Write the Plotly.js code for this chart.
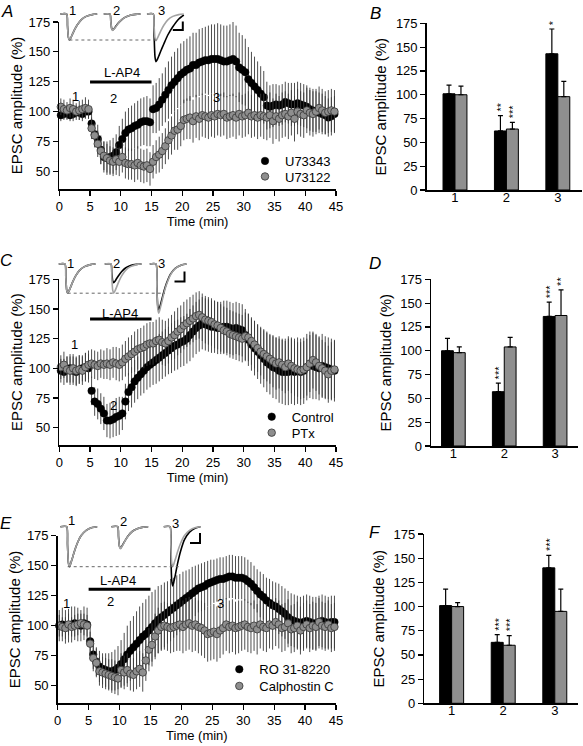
<!DOCTYPE html>
<html>
<head>
<meta charset="utf-8">
<script src="https://cdn.plot.ly/plotly-3.0.1.min.js"></script>
<style>html,body{margin:0;padding:0;background:#fff;}#plot{width:583px;height:746px;}</style>
</head>
<body>
<div id="plot"></div>
<script>
// ---------- time course data (min) ----------
const time = [0.25,0.75,1.25,1.75,2.25,2.75,3.25,3.75,4.25,4.75,
5.25,5.75,6.25,6.75,7.25,7.75,8.25,8.75,9.25,9.75,
10.25,10.75,11.25,11.75,12.25,12.75,13.25,13.75,14.25,14.75,
15.25,15.75,16.25,16.75,17.25,17.75,18.25,18.75,19.25,19.75,
20.25,20.75,21.25,21.75,22.25,22.75,23.25,23.75,24.25,24.75,
25.25,25.75,26.25,26.75,27.25,27.75,28.25,28.75,29.25,29.75,
30.25,30.75,31.25,31.75,32.25,32.75,33.25,33.75,34.25,34.75,
35.25,35.75,36.25,36.75,37.25,37.75,38.25,38.75,39.25,39.75,
40.25,40.75,41.25,41.75,42.25,42.75,43.25,43.75,44.25,44.75];

// Panel A
const aU73343 = [97,98,99,97,98,100,99,98,100,100,
90,81,77,68,62,61,62,63,66,72,
77,82,85,86,88,89,91,92,92,91,
102,103,106,110,114,118,122,125,128,131,
133,135,136,139,139,141,142,143,143,144,
144,144,143,142,142,143,144,142,137,135,
133,127,124,121,118,115,112,105,104,105,
106,105,106,108,107,106,106,107,106,105,
104,102,101,100,99,98,97,95,96,98];
const aU73343Err = [5,5,6,5,6,5,6,6,5,6,
8,10,12,12,13,14,14,15,15,16,
17,18,18,19,19,20,20,20,21,20,
20,21,22,22,23,24,24,25,25,26,
26,26,27,27,27,28,28,28,29,29,
29,30,30,30,30,30,31,30,29,29,
28,27,26,25,24,23,22,20,18,18,
17,17,17,17,17,18,18,18,18,18,
18,18,18,17,17,17,16,16,16,15];
const aU73122 = [104,102,101,103,102,100,101,102,103,102,
86,80,73,67,63,61,59,58,60,58,
62,57,56,56,55,57,55,54,55,52,
58,62,64,67,71,76,80,84,85,88,
93,94,95,92,96,94,97,96,95,97,
96,98,97,98,95,96,97,95,98,96,
97,99,96,97,95,97,96,95,97,92,
96,94,97,98,96,99,94,100,98,97,
101,99,98,100,103,101,99,100,101,100];
const aU73122Err = [7,8,7,8,8,7,8,8,9,8,
9,10,11,11,12,12,12,12,13,12,
13,13,13,13,14,14,14,14,14,14,
14,14,15,15,15,16,16,16,17,17,
17,17,18,18,18,18,18,18,18,18,
18,18,18,18,18,18,18,18,18,18,
18,18,18,18,18,18,19,19,19,19,
19,19,19,19,19,19,19,19,19,19,
19,19,19,19,18,18,18,18,18,18];

// Panel C
const cControl = [98,97,99,100,98,97,99,100,101,100,
81,72,70,66,62,56,56,57,59,60,
62,72,80,84,89,92,95,98,101,103,
105,107,109,111,113,115,117,119,120,122,
123,125,128,131,134,136,138,137,136,135,
135,134,134,135,135,134,133,134,133,132,
128,124,120,117,114,111,108,105,103,101,
100,98,97,97,97,98,97,98,97,98,
101,103,102,101,100,102,101,100,99,98];
const cControlErr = [10,11,11,12,12,12,12,11,12,12,
12,12,13,13,14,14,15,15,16,16,
14,15,16,17,18,18,18,19,19,19,
19,20,20,20,20,20,21,21,21,21,
21,21,22,22,22,22,22,22,22,22,
22,22,22,22,22,22,22,22,22,22,
22,22,22,23,23,24,24,25,25,26,
26,27,27,28,28,28,28,28,28,28,
28,28,28,27,27,27,26,26,26,26];
const cPTx = [101,103,99,98,100,98,99,98,101,103,
104,103,102,104,103,104,103,105,104,103,
105,108,110,112,114,116,117,118,120,121,
121,123,124,122,121,123,126,128,131,133,
136,138,140,142,144,145,143,141,140,139,
137,136,134,132,131,129,128,127,126,125,
127,126,123,120,117,114,112,110,108,106,
104,105,103,101,104,102,100,99,98,99,
101,104,107,105,102,100,98,95,98,99];
const cPTxErr = [10,11,11,12,12,12,12,12,12,12,
12,12,12,12,12,13,13,13,14,14,
15,15,16,16,17,17,17,18,18,18,
18,18,19,19,19,19,19,20,20,20,
20,20,20,20,20,20,20,20,20,20,
20,20,20,20,20,20,20,20,20,20,
20,20,20,20,20,20,21,21,21,22,
22,22,22,22,23,23,23,23,24,24,
24,24,24,24,24,24,24,24,24,24];

// Panel E
const eRO318220 = [100,101,99,100,101,102,101,100,102,101,
87,76,70,66,64,63,62,62,63,65,
68,72,76,79,82,85,88,91,93,96,
99,102,105,107,109,111,113,115,117,119,
121,123,125,127,129,131,132,133,135,136,
137,138,139,139,140,141,141,140,140,140,
139,137,135,132,129,126,124,121,119,117,
116,114,112,110,107,105,104,103,102,103,
104,103,102,102,103,104,103,102,103,103];
const eRO318220Err = [13,14,14,14,15,14,14,13,14,14,
12,12,12,13,13,14,15,16,17,18,
20,22,24,25,26,27,28,28,29,29,
29,28,28,27,27,26,26,25,25,24,
24,23,22,22,21,20,20,20,19,19,
18,18,18,18,18,18,18,18,18,18,
18,18,18,18,18,19,19,19,20,20,
20,21,21,21,22,22,22,22,22,22,
22,22,22,22,22,22,22,22,22,22];
const eCalphostin = [100,99,98,101,99,100,101,102,101,100,
85,73,69,62,61,60,59,58,57,56,
63,61,63,60,59,62,64,61,71,80,
84,91,96,99,100,99,98,99,100,101,
99,101,102,100,101,99,98,96,93,94,
95,93,96,98,101,99,100,98,99,100,
101,99,98,100,97,101,99,98,101,100,
103,101,98,99,102,97,98,100,96,99,
101,98,100,99,103,100,99,101,98,99];
const eCalphostinErr = [9,8,9,9,8,9,9,8,9,9,
10,11,12,12,13,13,13,14,14,14,
14,14,14,14,14,15,15,16,17,18,
18,19,19,20,20,20,21,21,21,22,
22,22,22,22,22,22,23,23,23,23,
23,23,23,22,22,22,22,22,22,21,
21,21,21,21,21,20,20,20,20,20,
20,20,20,20,20,20,20,20,20,20,
20,20,20,20,20,20,20,20,20,20];

// ---------- summary bar data ----------
const barCats = ['1','2','3'];
const bBlack = [101,62,143], bBlackErr = [9,16,26];
const bGrey  = [100,64,98],  bGreyErr  = [9,7,16];
const bBlackStars = ['','**','*'], bGreyStars = ['','***',''];
const dBlack = [100,57,136], dBlackErr = [13,9,15];
const dGrey  = [98,104,137], dGreyErr  = [6,10,27];
const dBlackStars = ['','***','***'], dGreyStars = ['','','**'];
const fBlack = [101,63,140], fBlackErr = [17,8,13];
const fGrey  = [100,60,95],  fGreyErr  = [4,10,23];
const fBlackStars = ['','***','***'], fGreyStars = ['','***',''];
const noErr = [0,0,0];

// ---------- example EPSC sweeps (ms, pA) ----------
const sweepTime = [0,6.5,7.3,8.2,9.2,10.5,12,14,17,21,26,32,37];
const aSweep1Black = [0,0,-59,-117,-130,-120,-104,-82,-55,-29,-12,-3,0];
const aSweep1Grey  = [0,0,-59,-117,-130,-120,-104,-82,-55,-29,-12,-3,0];
const aSweep2Black = [0,0,-36,-72,-80,-74,-64,-50,-34,-18,-7,-2,0];
const aSweep2Grey  = [0,0,-37,-74,-82,-75,-66,-52,-34,-18,-7,-2,0];
const aSweep3Black = [0,0,-107,-214,-238,-228,-210,-185,-150,-105,-64,-25,-5];
const aSweep3Grey  = [0,0,-60,-120,-133,-122,-106,-84,-56,-29,-12,-3,0];
const cSweep1Black = [0,0,-66,-131,-146,-134,-117,-92,-61,-32,-13,-3,0];
const cSweep1Grey  = [0,0,-66,-131,-146,-134,-117,-92,-61,-32,-13,-3,0];
const cSweep2Black = [0,0,-42,-84,-93,-86,-74,-59,-39,-20,-8,-2,0];
const cSweep2Grey  = [0,0,-66,-131,-146,-134,-117,-92,-61,-32,-13,-3,0];
const cSweep3Black = [0,0,-104,-207,-230,-212,-184,-145,-97,-51,-21,-5,0];
const cSweep3Grey  = [0,0,-111,-221,-246,-226,-197,-155,-103,-54,-22,-5,0];
const eSweep1Black = [0,0,-90,-180,-200,-184,-160,-126,-84,-44,-18,-4,0];
const eSweep1Grey  = [0,0,-90,-180,-200,-184,-160,-126,-84,-44,-18,-4,0];
const eSweep2Black = [0,0,-49,-97,-108,-99,-86,-68,-45,-24,-10,-2,0];
const eSweep2Grey  = [0,0,-50,-99,-110,-101,-88,-69,-46,-24,-10,-2,0];
const eSweep3Black = [0,0,-133,-266,-296,-272,-237,-186,-124,-65,-27,-6,0];
const eSweep3Grey  = [0,0,-90,-180,-200,-184,-160,-126,-84,-44,-18,-4,0];

const drugStart = 5, drugEnd = 15;

// ---------- styling helpers ----------
const W = 583, H = 746;
const px = v => v / W;
const py = v => 1 - v / H;
const FONT = 'Liberation Sans, Arial, Helvetica, sans-serif';
const BLACK = '#000000', GREY = '#8e8e8e', BARGREY = '#8f8f8f', SWEEPGREY = '#a3a3a3';

function markerStyle(isGrey) {
  return { size: 7.5, color: isGrey ? GREY : BLACK,
           line: { color: isGrey ? '#333333' : '#000', width: isGrey ? 0.8 : 0.5 } };
}
function timeSeries(y, err, name, isGrey, xa, ya) {
  return {
    type: 'scatter', mode: 'markers', x: time, y: y, name: name, showlegend: false,
    xaxis: xa, yaxis: ya, cliponaxis: false,
    marker: markerStyle(isGrey),
    error_y: { type: 'data', array: err, visible: true, color: '#3a3a3a', thickness: 0.9, width: 0 }
  };
}
function legendEntry(name, isGrey, xa, ya, leg) {
  return { type: 'scatter', mode: 'markers', x: [null], y: [null], name: name, xaxis: xa, yaxis: ya,
           legend: leg, showlegend: true, marker: markerStyle(isGrey) };
}
function bars(y, err, isGrey, xa, ya) {
  return {
    type: 'bar', x: barCats, y: y, xaxis: xa, yaxis: ya, showlegend: false,
    marker: { color: isGrey ? BARGREY : BLACK, line: { color: '#000', width: 1 } },
    error_y: { type: 'data', symmetric: false, array: err, arrayminus: noErr, color: '#000', thickness: 1.2, width: 2.5 }
  };
}
function sweep(y, isGrey, xa, ya) {
  return {
    type: 'scatter', mode: 'lines', x: sweepTime, y: y, xaxis: xa, yaxis: ya, showlegend: false,
    line: { color: isGrey ? SWEEPGREY : BLACK, width: 1.6, shape: 'spline', smoothing: 0.6 },
    hoverinfo: 'skip'
  };
}

const traces = [
  timeSeries(aU73343, aU73343Err, 'U73343', false, 'x', 'y'),
  timeSeries(aU73122, aU73122Err, 'U73122', true, 'x', 'y'),
  bars(bBlack, bBlackErr, false, 'x2', 'y2'),
  bars(bGrey, bGreyErr, true, 'x2', 'y2'),
  timeSeries(cControl, cControlErr, 'Control', false, 'x3', 'y3'),
  timeSeries(cPTx, cPTxErr, 'PTx', true, 'x3', 'y3'),
  bars(dBlack, dBlackErr, false, 'x4', 'y4'),
  bars(dGrey, dGreyErr, true, 'x4', 'y4'),
  timeSeries(eRO318220, eRO318220Err, 'RO 31-8220', false, 'x5', 'y5'),
  timeSeries(eCalphostin, eCalphostinErr, 'Calphostin C', true, 'x5', 'y5'),
  bars(fBlack, fBlackErr, false, 'x6', 'y6'),
  bars(fGrey, fGreyErr, true, 'x6', 'y6'),
  sweep(aSweep1Black, false, 'x7', 'y7'), sweep(aSweep1Grey, true, 'x7', 'y7'),
  sweep(aSweep2Black, false, 'x8', 'y8'), sweep(aSweep2Grey, true, 'x8', 'y8'),
  sweep(aSweep3Black, false, 'x9', 'y9'), sweep(aSweep3Grey, true, 'x9', 'y9'),
  sweep(cSweep1Black, false, 'x10', 'y10'), sweep(cSweep1Grey, true, 'x10', 'y10'),
  sweep(cSweep2Black, false, 'x11', 'y11'), sweep(cSweep2Grey, true, 'x11', 'y11'),
  sweep(cSweep3Black, false, 'x12', 'y12'), sweep(cSweep3Grey, true, 'x12', 'y12'),
  sweep(eSweep1Black, false, 'x13', 'y13'), sweep(eSweep1Grey, true, 'x13', 'y13'),
  sweep(eSweep2Black, false, 'x14', 'y14'), sweep(eSweep2Grey, true, 'x14', 'y14'),
  sweep(eSweep3Black, false, 'x15', 'y15'), sweep(eSweep3Grey, true, 'x15', 'y15'),
  legendEntry('U73343', false, 'x', 'y', 'legend'),
  legendEntry('U73122', true, 'x', 'y', 'legend2'),
  legendEntry('Control', false, 'x3', 'y3', 'legend3'),
  legendEntry('PTx', true, 'x3', 'y3', 'legend4'),
  legendEntry('RO 31-8220', false, 'x5', 'y5', 'legend5'),
  legendEntry('Calphostin C', true, 'x5', 'y5', 'legend6')
];

function timeX(dom, anchor) {
  return { domain: dom, anchor: anchor, range: [0, 45], dtick: 5, tick0: 0,
    ticks: 'outside', ticklen: 5, tickwidth: 1.2, tickcolor: '#000',
    showline: true, linewidth: 1.5, linecolor: '#000', showgrid: false, zeroline: false,
    tickfont: { size: 13, color: '#000' },
    title: { text: 'Time (min)', font: { size: 13, color: '#000' }, standoff: 3 }, fixedrange: true };
}
function ampY(dom, anchor, bottom, standoff) {
  return { domain: dom, anchor: anchor, range: [bottom, 175], dtick: 25, tick0: 0,
    ticks: 'outside', ticklen: 5, tickwidth: 1.2, tickcolor: '#000',
    showline: true, linewidth: 1.5, linecolor: '#000', showgrid: false, zeroline: false,
    tickfont: { size: 13, color: '#000' },
    title: { text: 'EPSC amplitude (%)', font: { size: 15, color: '#000' }, standoff: standoff }, fixedrange: true };
}
function catX(dom, anchor, range) {
  return { domain: dom, anchor: anchor, type: 'category', range: range,
    ticks: '', ticklen: 0, ticklabelstandoff: -5, showline: true, linewidth: 1.5, linecolor: '#000', showgrid: false, zeroline: false,
    tickfont: { size: 13, color: '#000' }, fixedrange: true };
}
function hiddenAxis(dom, anchor, range) {
  return { domain: dom, anchor: anchor, range: range, visible: false, fixedrange: true };
}
function legendAt(textLeft, centerY) {
  return { x: px(textLeft - 40), y: py(centerY), xanchor: 'left', yanchor: 'middle',
           bgcolor: 'rgba(0,0,0,0)', borderwidth: 0, font: { size: 13, color: '#000' }, itemwidth: 30 };
}

const sweepRange = [0, 40];
const layout = {
  width: W, height: H, margin: { l: 0, r: 0, t: 0, b: 0 },
  paper_bgcolor: '#fff', plot_bgcolor: 'rgba(0,0,0,0)',
  font: { family: FONT, color: '#000', size: 13 },
  barmode: 'group', bargap: 0.535, bargroupgap: 0,
  xaxis: timeX([px(59.3), px(336)], 'y'),
  yaxis: ampY([py(189), py(22)], 'x', 35.2, 2),
  xaxis2: catX([px(426.7), px(582)], 'y2', [-0.55, 2.47]),
  yaxis2: ampY([py(190), py(23.3)], 'x2', 0, 5),
  xaxis3: timeX([px(59.3), px(336)], 'y3'),
  yaxis3: ampY([py(445), py(279.3)], 'x3', 35.4, 2),
  xaxis4: catX([px(431), px(578)], 'y4', [-0.44, 2.45]),
  yaxis4: ampY([py(446), py(279.3)], 'x4', 0, 5),
  xaxis5: timeX([px(57.7), px(336)], 'y5'),
  yaxis5: ampY([py(703.3), py(535.7)], 'x5', 35.3, 2),
  xaxis6: catX([px(424.3), px(578)], 'y6', [-0.53, 2.45]),
  yaxis6: ampY([py(703.3), py(534)], 'x6', 0, 5),
  // sweep insets
  xaxis7: hiddenAxis([px(60.2), px(100.2)], 'y7', sweepRange),
  yaxis7: hiddenAxis([py(66), py(10)], 'x7', [-260, 20]),
  xaxis8: hiddenAxis([px(103.5), px(143.5)], 'y8', sweepRange),
  yaxis8: hiddenAxis([py(66), py(10)], 'x8', [-260, 20]),
  xaxis9: hiddenAxis([px(146.8), px(186.8)], 'y9', sweepRange),
  yaxis9: hiddenAxis([py(66), py(10)], 'x9', [-260, 20]),
  xaxis10: hiddenAxis([px(58.5), px(98.5)], 'y10', sweepRange),
  yaxis10: hiddenAxis([py(316), py(260)], 'x10', [-260, 20]),
  xaxis11: hiddenAxis([px(104.5), px(144.5)], 'y11', sweepRange),
  yaxis11: hiddenAxis([py(316), py(260)], 'x11', [-260, 20]),
  xaxis12: hiddenAxis([px(149.5), px(189.5)], 'y12', sweepRange),
  yaxis12: hiddenAxis([py(316), py(260)], 'x12', [-260, 20]),
  xaxis13: hiddenAxis([px(60.2), px(100.2)], 'y13', sweepRange),
  yaxis13: hiddenAxis([py(588.7), py(522.7)], 'x13', [-310, 20]),
  xaxis14: hiddenAxis([px(111.2), px(151.2)], 'y14', sweepRange),
  yaxis14: hiddenAxis([py(588.7), py(522.7)], 'x14', [-310, 20]),
  xaxis15: hiddenAxis([px(163.5), px(203.5)], 'y15', sweepRange),
  yaxis15: hiddenAxis([py(588.7), py(522.7)], 'x15', [-310, 20]),
  legend:  legendAt(285, 161),
  legend2: legendAt(285, 176.5),
  legend3: legendAt(291.7, 416.7),
  legend4: legendAt(291.7, 432.7),
  legend5: legendAt(259.3, 669.3),
  legend6: legendAt(259.3, 686),
  shapes: [], annotations: []
};

// L-AP4 application bars
[['x', 'y', 124.7], ['x3', 'y3', 141.6], ['x5', 'y5', 130.3]].forEach(([xa, ya, yv]) => {
  layout.shapes.push({ type: 'line', xref: xa, yref: ya, x0: drugStart, x1: drugEnd, y0: yv, y1: yv, line: { color: '#000', width: 3 } });
});
// dotted reference lines from sweep-1 peak
[['y7', aSweep1Grey, 69.4, 157], ['y10', cSweep1Grey, 67.7, 165], ['y13', eSweep1Grey, 67.7, 180]].forEach(([ya, sw, a, b]) => {
  const pk = Math.min(...sw);
  layout.shapes.push({ type: 'line', xref: 'paper', yref: ya, x0: px(a), x1: px(b), y0: pk, y1: pk, line: { color: '#666', width: 1, dash: 'dot' } });
});
// scale bars
[['x9', 'y9', 36, -38, 42], ['x12', 'y12', 35, -38, 50], ['x15', 'y15', 36.5, -32, 50]].forEach(([xa, ya, xr, ytop, len]) => {
  layout.shapes.push({ type: 'path', xref: xa, yref: ya,
    path: `M${xr},${ytop} L${xr},${ytop - len} L${xr - 10},${ytop - len}`,
    line: { color: '#000', width: 2 } });
});

function ann(text, x, y, xref, yref, size, extra) {
  layout.annotations.push(Object.assign({ text: text, x: x, y: y, xref: xref, yref: yref, showarrow: false,
    font: { size: size, color: '#000', family: FONT }, xanchor: 'center', yanchor: 'middle' }, extra || {}));
}
// panel letters
[['A', 7, 11], ['B', 375, 13], ['C', 6, 260], ['D', 375, 263], ['E', 6, 523], ['F', 375, 532]].forEach(([t, x, y]) => {
  ann('<i>' + t + '</i>', px(x), py(y), 'paper', 'paper', 17);
});
// sweep numbers
[['1', 72.3, 10], ['2', 116.7, 10], ['3', 161, 10],
 ['1', 70, 263], ['2', 116.7, 263], ['3', 161.7, 263],
 ['1', 71.7, 520], ['2', 123.3, 521.7], ['3', 175, 523.3]].forEach(([t, x, y]) => ann(t, px(x), py(y), 'paper', 'paper', 13));
// in-plot epoch labels and L-AP4
[['x', 'y', [['1', 2.7, 112.3], ['2', 8.8, 111], ['3', 25.6, 112], ['L-AP4', 10.2, 132.4]]],
 ['x3', 'y3', [['1', 2.4, 119.7], ['2', 8.8, 69], ['L-AP4', 9.9, 146.6]]],
 ['x5', 'y5', [['1', 1.35, 118.6], ['2', 8.5, 120], ['3', 26.3, 118.6], ['L-AP4', 9.8, 137.5]]]
].forEach(([xa, ya, list]) => list.forEach(([t, x, y]) => ann(t, x, y, xa, ya, 13)));
// significance stars (x given as category index)
function stars(vals, errs, marks, xa, ya, shift) {
  marks.forEach((m, i) => {
    if (!m) return;
    ann(m, i, vals[i] + errs[i], xa, ya, 11, { textangle: -90, yanchor: 'bottom', xshift: shift, yshift: 2 });
  });
}
stars(bBlack, bBlackErr, bBlackStars, 'x2', 'y2', -5);
stars(bGrey, bGreyErr, bGreyStars, 'x2', 'y2', 6.5);
stars(dBlack, dBlackErr, dBlackStars, 'x4', 'y4', -5);
stars(dGrey, dGreyErr, dGreyStars, 'x4', 'y4', 6.5);
stars(fBlack, fBlackErr, fBlackStars, 'x6', 'y6', -5);
stars(fGrey, fGreyErr, fGreyStars, 'x6', 'y6', 6.5);

Plotly.newPlot('plot', traces, layout, { displayModeBar: false, staticPlot: true });
</script>
</body>
</html>
